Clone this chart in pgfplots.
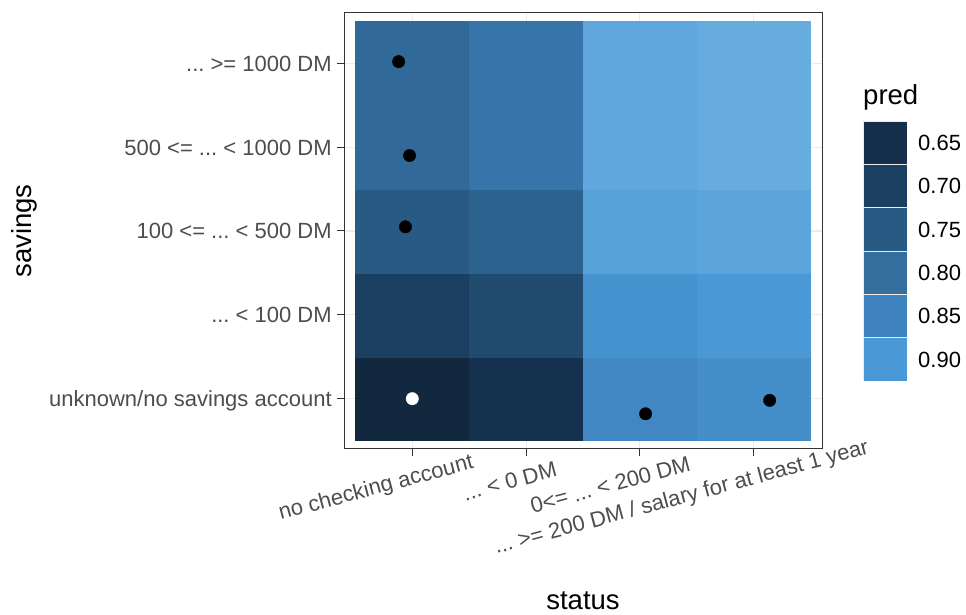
\documentclass[border=0pt]{standalone}
\usepackage{fontspec}
\setmainfont{Liberation Sans}
\usepackage{pgfplots}
\pgfplotsset{compat=1.18}
\usepackage{pgfplotstable}
\usepgfplotslibrary{patchplots}

\definecolor{tickcol}{HTML}{4D4D4D}
\definecolor{framecol}{HTML}{333333}
\definecolor{gridcol}{HTML}{EBEBEB}

\pgfplotsset{
  colormap={predmap}{rgb255(64pt)=(18,40,63) rgb255(65pt)=(20,46,76) rgb255(70pt)=(27,63,96) rgb255(75pt)=(40,90,131) rgb255(80pt)=(51,110,159) rgb255(85pt)=(62,131,191) rgb255(90pt)=(74,153,214) rgb255(94pt)=(102,172,222)}
}

\pgfplotstableread{
x y pred
1 1 0.640
2 1 0.660
3 1 0.860
4 1 0.875
1 2 0.700
2 2 0.720
3 2 0.885
4 2 0.900
1 3 0.750
2 3 0.770
3 3 0.920
4 3 0.925
1 4 0.790
2 4 0.815
3 4 0.930
4 4 0.940
1 5 0.790
2 5 0.815
3 5 0.930
4 5 0.940
}\tiles

\pgfplotstableread{
x y
0.88 5.02
0.976 3.90
0.94 3.05
3.05 0.82
4.14 0.98
}\blackpts

\pgfplotstableread{
x y
1.00 1.00
}\whitepts

\pgfplotstableread{
x y v
0 5 0.65
1 5 0.65
1 6 0.65
0 6 0.65
0 4 0.70
1 4 0.70
1 5 0.70
0 5 0.70
0 3 0.75
1 3 0.75
1 4 0.75
0 4 0.75
0 2 0.80
1 2 0.80
1 3 0.80
0 3 0.80
0 1 0.85
1 1 0.85
1 2 0.85
0 2 0.85
0 0 0.90
1 0 0.90
1 1 0.90
0 1 0.90
}\legendtab

\newcommand{\ddd}{...}
\newcommand{\xl}[1]{\makebox[1.4\width][l]{#1}}
\newcommand{\ticksize}{\fontsize{22}{26}\selectfont\frenchspacing}
\newcommand{\titlesize}{\fontsize{27.5}{32}\selectfont}

\begin{document}
\frenchspacing
\begin{tikzpicture}
\useasboundingbox (0,0) rectangle (966pt,615pt);
\begin{axis}[
  at={(344pt,166pt)}, anchor=south west,
  width=478pt, height=436pt, scale only axis,
  xmin=0.4, xmax=4.6, ymin=0.4, ymax=5.6,
  xtick={1,2,3,4}, ytick={1,2,3,4,5},
  xticklabels={\xl{no checking account},\xl{\ddd{} < 0 DM},\xl{0<= \ddd{} < 200 DM},\xl{\ddd{} >= 200 DM / salary for at least 1 year}},
  yticklabels={unknown/no savings account,\ddd{} < 100 DM,100 <= \ddd{} < 500 DM,500 <= \ddd{} < 1000 DM,\ddd{} >= 1000 DM},
  grid=major, major grid style={gridcol, line width=1.1pt},
  axis line style={framecol, line width=1pt},
  tick style={framecol, line width=1pt},
  tick align=outside, major tick length=6.7pt,
  xtick pos=bottom, ytick pos=left,
  ticklabel style={font=\ticksize, text=tickcol, inner sep=0pt},
  yticklabel style={anchor=base east, yshift=-8pt},
  yticklabel shift=5.4pt,
  xticklabel style={rotate=15, anchor=north, text height=15.8pt, text depth=4.6pt},
  xticklabel shift=12.5pt,
  colormap name=predmap, point meta min=0.64, point meta max=0.94,
  xlabel={status},
  xlabel style={at={(axis description cs:0.5,-0.369)}, anchor=base, font=\titlesize, text=black, inner sep=0pt},
  ylabel={savings},
  ylabel style={at={(axis description cs:-0.654,0.5)}, anchor=base, rotate=0, font=\titlesize, text=black, inner sep=0pt},
]
\addplot[matrix plot*, mesh/cols=4, point meta=\thisrow{pred}] table[x=x, y=y] {\tiles};
\addplot[only marks, mark=*, mark size=6.2pt, mark options={fill=black, draw=black}] table[x=x, y=y] {\blackpts};
\addplot[only marks, mark=*, mark size=6.2pt, mark options={fill=white, draw=white}] table[x=x, y=y] {\whitepts};
\end{axis}

\begin{axis}[
  at={(863pt,234pt)}, anchor=south west,
  width=44pt, height=260pt, scale only axis,
  xmin=0, xmax=1, ymin=0, ymax=6,
  axis line style={draw=none}, tick style={draw=none},
  xtick=\empty,
  ytick={0.5,1.5,2.5,3.5,4.5,5.5},
  yticklabels={0.90,0.85,0.80,0.75,0.70,0.65},
  yticklabel pos=right, major tick length=0pt,
  yticklabel style={font=\ticksize, text=black, inner sep=0pt, anchor=base west, xshift=11pt, yshift=-8pt},
  colormap name=predmap, point meta min=0.64, point meta max=0.94,
  title={pred},
  title style={at={(axis description cs:0,1)}, anchor=base west, yshift=10pt, font=\titlesize, inner sep=0pt},
]
\addplot[patch, patch type=rectangle, shader=faceted, faceted color=white!85!gray, line width=0.8pt, point meta=\thisrow{v}] table[x=x, y=y] {\legendtab};
\end{axis}
\end{tikzpicture}
\end{document}
